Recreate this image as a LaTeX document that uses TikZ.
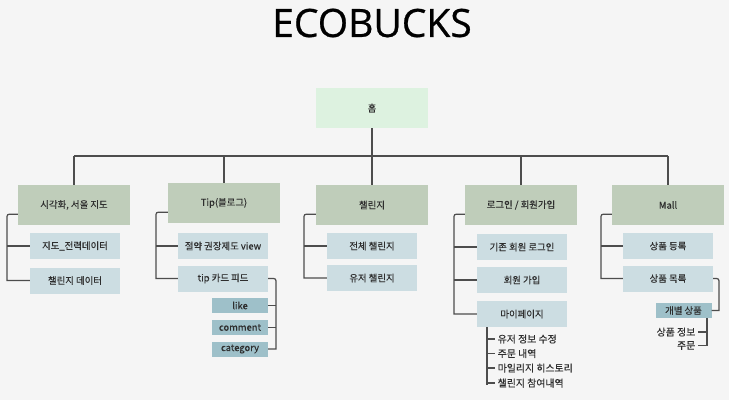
\documentclass[tikz,border=0pt]{standalone}
\usepackage{fontspec}
\setmainfont{Noto Sans CJK KR}[FakeBold=0.35]
\newfontfamily\titlefont{Open Sans}[FakeBold=0.6]
\usetikzlibrary{calc}

\definecolor{bgcol}{HTML}{F5F5F5}
\definecolor{homecol}{HTML}{DDF2E0}
\definecolor{catcol}{HTML}{BFCDBA}
\definecolor{subcol}{HTML}{CCDDE2}
\definecolor{leafcol}{HTML}{9EC0C9}
\definecolor{linecol}{HTML}{4D4D4D}
\definecolor{txtcol}{HTML}{2E2E2E}

\tikzset{
  lbl/.style={text=txtcol, font=\fontsize{9.4}{11}\selectfont},
  homebox/.style={lbl, fill=homecol, minimum width=112pt, minimum height=40pt, inner sep=0pt},
  catbox/.style={lbl, fill=catcol, minimum width=112pt, minimum height=40pt, inner sep=0pt},
  subbox/.style={lbl, fill=subcol, minimum width=90pt, minimum height=26pt, inner sep=0pt},
  leafbox/.style={lbl, fill=leafcol, minimum width=56pt, minimum height=15pt, inner sep=0pt},
  itemtext/.style={text=txtcol, font=\fontsize{9.9}{11}\selectfont, inner ysep=1pt, inner xsep=2.5pt},
  conn/.style={draw=linecol, line width=1.2pt},
}

\begin{document}
\begin{tikzpicture}[x=1pt, y=-1pt]
  % canvas
  \fill[bgcol] (0,0) rectangle (729,400);
  \useasboundingbox (0,0) rectangle (729,400);

  % title
  \node[text=black, font=\titlefont\fontsize{39}{39}\selectfont, inner sep=0pt] (title) at (372,23) {ECOBUCKS};

  % root
  \node[homebox] (home) at (372,108) {홈};

  % main sections
  \node[catbox] (c1) at (74,205) {시각화, 서울 지도};
  \node[catbox] (c2) at (224,203) {Tip(블로그)};
  \node[catbox] (c3) at (372,205) {챌린지};
  \node[catbox] (c4) at (521,205) {로그인 / 회원가입};
  \node[catbox] (c5) at (668,205) {Mall};

  % sub pages
  \node[subbox] (s11) at (75,246) {지도\_전력데이터};
  \node[subbox] (s12) at (75,280.5) {챌린지 데이터};

  \node[subbox] (s21) at (223,246) {절약 권장제도 view};
  \node[subbox] (s22) at (223,278.5) {tip 카드 피드};

  \node[subbox] (s31) at (372,246) {전체 챌린지};
  \node[subbox] (s32) at (372,278) {유저 챌린지};

  \node[subbox] (s41) at (522,247) {기존 회원 로그인};
  \node[subbox] (s42) at (522,280) {회원 가입};
  \node[subbox] (s43) at (522,314) {마이페이지};

  \node[subbox] (s51) at (668,246) {상품 등록};
  \node[subbox] (s52) at (668,278.5) {상품 목록};

  % card feed options
  \node[leafbox] (l1) at (240,305.5) {like};
  \node[leafbox] (l2) at (240,327.5) {comment};
  \node[leafbox] (l3) at (240,349) {category};

  % single product
  \node[leafbox] (p1) at (683.5,310.5) {개별 상품};

  % my page items
  \node[itemtext, anchor=west] (m1) at (495,339) {유저 정보 수정};
  \node[itemtext, anchor=west] (m2) at (495,353.5) {주문 내역};
  \node[itemtext, anchor=west] (m3) at (495,368) {마일리지 히스토리};
  \node[itemtext, anchor=west] (m4) at (495,383) {챌린지 참여내역};

  % product items
  \node[itemtext, anchor=east] (q1) at (698,332) {상품 정보};
  \node[itemtext, anchor=east] (q2) at (698,345.5) {주문};

  % root to sections
  \coordinate (bus) at (0,156);
  \draw[conn] (home.south) -- (home.south |- bus);
  \draw[conn] (c1.north |- bus) -- (c5.north |- bus);
  \foreach \c in {c1,c2,c3,c4,c5}
    \draw[conn] (\c.north |- bus) -- (\c.north);

  % section brackets
  \foreach \c/\bx/\last in {c1/7/s12, c2/156/s22, c3/304/s32, c4/454/s43, c5/601/s52} {
    \coordinate (bx) at (\bx,0);
    \coordinate (t) at ($(\c.south west)+(0,-11)$);
    \draw[conn] (t) -- ($(bx|-t)+(5,0)$) .. controls (bx|-t) .. ($(bx|-t)+(0,5)$)
      -- (bx|-\last) -- (\last.west);
  }
  \foreach \s/\bx in {s11/7, s21/156, s31/304, s41/454, s42/454, s51/601} {
    \coordinate (bx) at (\bx,0);
    \draw[conn] (bx|-\s) -- (\s.west);
  }

  % card feed bracket
  \coordinate (rf) at (276,0);
  \draw[conn] (s22.east) -- ($(rf|-s22.east)+(-5,0)$) .. controls (rf|-s22.east) .. ($(rf|-s22.east)+(0,5)$)
    -- (rf|-l3) -- (l3.east);
  \draw[conn] (rf|-l1) -- (l1.east);
  \draw[conn] (rf|-l2) -- (l2.east);

  % product list bracket
  \coordinate (rp) at (719,0);
  \draw[conn] (s52.east) -- ($(rp|-s52.east)+(-5,0)$) .. controls (rp|-s52.east) .. ($(rp|-s52.east)+(0,5)$)
    -- (rp|-p1) -- (p1.east);

  % product detail list
  \coordinate (pv) at (707,0);
  \draw[conn] (pv|-p1.south) -- (pv|-q2) -- (q2.east);
  \draw[conn] (pv|-q1) -- (q1.east);

  % my page list
  \coordinate (mv) at (487,0);
  \draw[conn] (mv|-s43.south) -- ($(mv|-m4)+(0,2)$);
  \foreach \m in {m1,m2,m3,m4}
    \draw[conn] (mv|-\m) -- (\m.west);
\end{tikzpicture}
\end{document}
